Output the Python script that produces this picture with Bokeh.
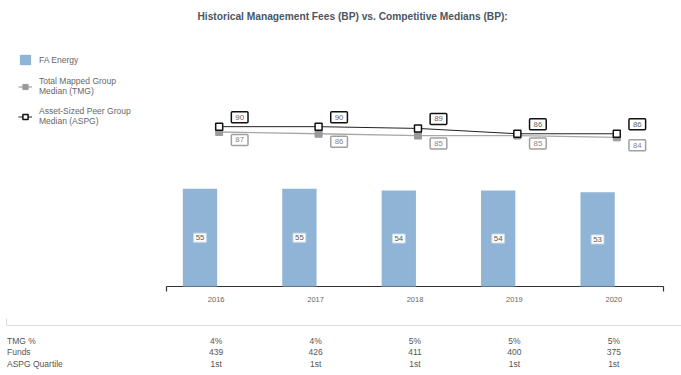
from bokeh.plotting import figure
from bokeh.models import ColumnDataSource, Range1d, Legend, LegendItem
from bokeh.transform import dodge
from bokeh.core.properties import value
from bokeh.embed import file_html
from bokeh.resources import INLINE

# ---- data ----
years = ["2016", "2017", "2018", "2019", "2020"]
fa_energy = [55, 55, 54, 54, 53]
tmg_median = [87, 86, 85, 85, 84]
aspg_median = [90, 90, 89, 86, 86]
table_labels = ["TMG %", "Funds", "ASPG Quartile"]
tmg_pct = ["4%", "4%", "5%", "5%", "5%"]
funds = ["439", "426", "411", "400", "375"]
aspg_quartile = ["1st", "1st", "1st", "1st", "1st"]
series_names = ["FA Energy", "Total Mapped Group\nMedian (TMG)",
                "Asset-Sized Peer Group\nMedian (ASPG)"]
title_text = "Historical Management Fees (BP) vs. Competitive Medians (BP):"

# ---- layout (pixels) / style ----
FONT = "Liberation Sans"
W, H = 681, 375
F_TOP = 26                    # frame top (title above)
AX_LEFT, AX_RIGHT, BASE = 166, 663, 286
PX = 1.776                    # pixels per basis point
CW = (AX_RIGHT - AX_LEFT) / len(years)   # pixels per category
BAR_COLOR = "#8fb4d6"


def px_x(px):   # canvas pixel -> category-index units
    return (px - AX_LEFT) / CW - 0.5


def px_y(py):   # canvas pixel -> basis points
    return (BASE - py) / PX


idx = list(range(len(years)))
src = ColumnDataSource(dict(
    i=idx, year=years, fa=fa_energy, tmg=tmg_median, aspg=aspg_median,
    fa_mid=[v / 2 for v in fa_energy],
    fa_lbl=[str(v) for v in fa_energy],
    tmg_lbl=[str(v) for v in tmg_median],
    aspg_lbl=[str(v) for v in aspg_median],
))

p = figure(width=W, height=H,
           x_range=Range1d(px_x(0), px_x(W)),
           y_range=Range1d(px_y(H), px_y(F_TOP)),
           output_backend="svg", toolbar_location=None,
           x_axis_location=None, y_axis_location=None,
           min_border_left=0, min_border_right=0,
           min_border_top=F_TOP, min_border_bottom=0)
p.outline_line_color = None
p.grid.visible = False
p.background_fill_color = "white"
p.border_fill_color = "white"

# title
p.title.text = title_text
p.title.align = "left"
p.title.offset = 197
p.title.text_font = FONT
p.title.text_font_size = "10.2px"
p.title.text_font_style = "bold"
p.title.text_color = "#4b5663"

# category axis: baseline, end ticks and year labels
n = len(years)
tick_len = 5 / PX
p.segment(x0=[-0.5], x1=[n - 0.5], y0=[0], y1=[0], line_color="#333333", line_width=1.2)
p.segment(x0=[-0.5, n - 0.5], x1=[-0.5, n - 0.5], y0=[0, 0], y1=[-tick_len, -tick_len],
          line_color="#333333", line_width=1.2)
p.text(x="i", y=px_y(299), text="year", source=src, text_align="center",
       text_baseline="middle", text_font=value(FONT), text_font_size="7.5px",
       text_color="#666666")

# bars
bx = dodge("i", -0.163)
bars = p.vbar(x=bx, top="fa", width=0.345, source=src, fill_color=BAR_COLOR, line_color=None)
p.text(x=bx, y="fa_mid", text="fa_lbl", source=src, text_align="center",
       text_baseline="middle", text_font=value(FONT), text_font_size="7.8px",
       text_color="#555555", background_fill_color="white",
       border_line_color="#c9dbea", border_line_width=1, padding=(2, 2))

# medians
lx = dodge("i", 0.03)
tmg_line = p.line(x=lx, y="tmg", source=src, line_color="#a8a8a8", line_width=1.3)
tmg_pts = p.scatter(x=lx, y="tmg", source=src, marker="square", size=7,
                    fill_color="#9a9a9a", line_color="#9a9a9a", line_width=1)
aspg_line = p.line(x=lx, y="aspg", source=src, line_color="#222222", line_width=1)
aspg_pts = p.scatter(x=lx, y="aspg", source=src, marker="square", size=7,
                     fill_color="white", line_color="#111111", line_width=1.5)

p.text(x=lx, y="aspg", text="aspg_lbl", source=src, x_offset=20.5, y_offset=-9.5,
       text_align="center", text_baseline="middle", text_font=value(FONT),
       text_font_size="7.8px", text_color="#666666", background_fill_color="white",
       border_line_color="#111111", border_line_width=1.5, padding=(4, 3), border_radius=1)
p.text(x=lx, y="tmg", text="tmg_lbl", source=src, x_offset=20.5, y_offset=8,
       text_align="center", text_baseline="middle", text_font=value(FONT),
       text_font_size="7.8px", text_color="#888888", background_fill_color="white",
       border_line_color="#a0a0a0", border_line_width=1.5, padding=(4, 3), border_radius=1)

# legend
legend = Legend(items=[
    LegendItem(label=series_names[0], renderers=[bars]),
    LegendItem(label=series_names[1], renderers=[tmg_line, tmg_pts]),
    LegendItem(label=series_names[2], renderers=[aspg_line, aspg_pts]),
], location=(18, 249), orientation="vertical", label_text_font=FONT,
    label_text_font_size="8.5px", label_text_color="#666666", label_text_line_height=1.25,
    glyph_width=14, glyph_height=13, label_standoff=7, spacing=10, padding=0, margin=0,
    border_line_color=None, background_fill_alpha=0)
p.add_layout(legend, "center")

# table below the chart
table_rows = [tmg_pct, funds, aspg_quartile]
row_px = [340, 351.5, 363]
for lbl, vals, ry in zip(table_labels, table_rows, row_px):
    s = ColumnDataSource(dict(i=idx, t=vals))
    p.text(x="i", y=px_y(ry), text="t", source=s, text_align="center",
           text_baseline="middle", text_font=value(FONT), text_font_size="8.5px",
           text_color="#555555")
    p.text(x=[px_x(6.5)], y=[px_y(ry)], text=[lbl], text_align="left",
           text_baseline="middle", text_font=value(FONT), text_font_size="8.5px",
           text_color="#555555")

p.segment(x0=[px_x(6)], x1=[px_x(W)], y0=[px_y(325)], y1=[px_y(325)],
          line_color="#dddddd", line_width=1)
p.segment(x0=[px_x(6)], x1=[px_x(6)], y0=[px_y(325)], y1=[px_y(318)],
          line_color="#dddddd", line_width=1)

open("out.html", "w").write(file_html(p, INLINE))
